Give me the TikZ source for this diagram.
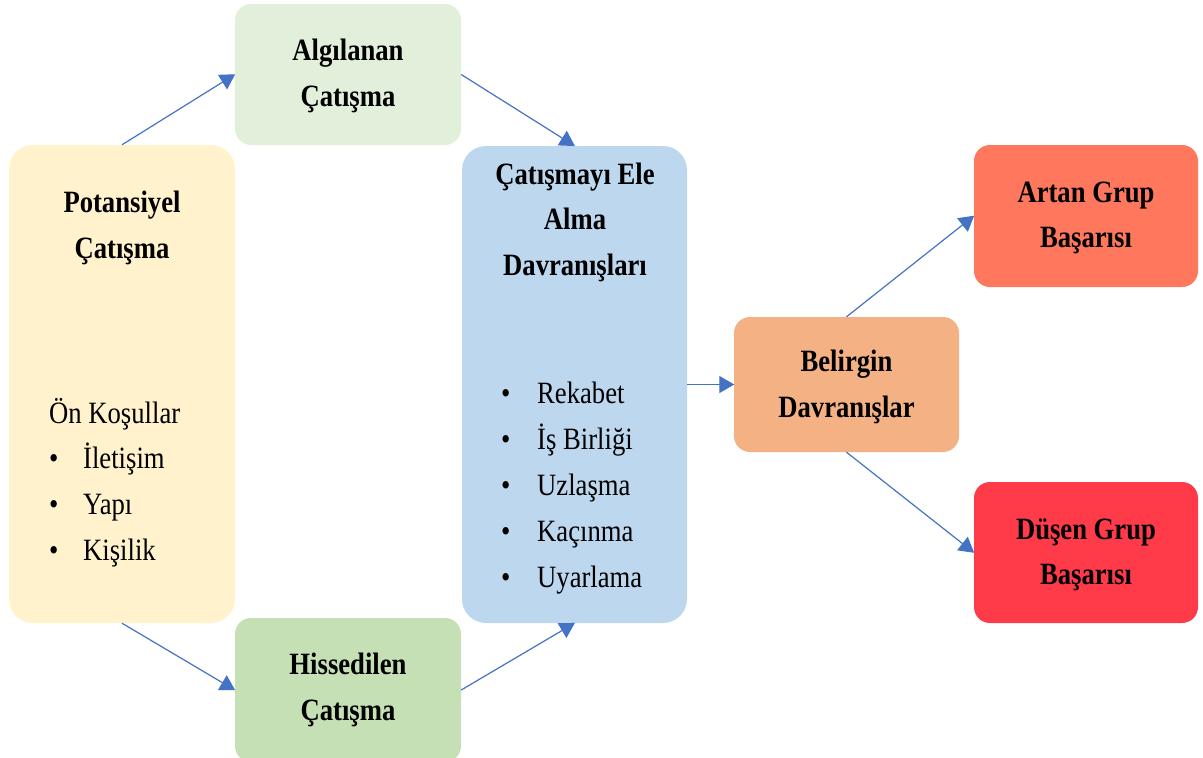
\documentclass[tikz,border=0pt]{standalone}
\usepackage{fontspec}
\setmainfont{Liberation Serif}[FakeStretch=0.86]
\usetikzlibrary{arrows.meta}

\definecolor{potfill}{HTML}{FFF2CC}
\definecolor{algfill}{HTML}{E2EFDA}
\definecolor{hisfill}{HTML}{C5E0B4}
\definecolor{elefill}{HTML}{BDD7EE}
\definecolor{belfill}{HTML}{F4B183}
\definecolor{artfill}{HTML}{FF775C}
\definecolor{dusfill}{HTML}{FF3B4A}
\definecolor{arrowblue}{HTML}{4472C4}

\tikzset{
  box/.style={draw=none, inner sep=0pt, rounded corners=16pt},
  bigbox/.style={box, rounded corners=24pt},
  title/.style={font=\fontsize{31}{45.5}\selectfont\bfseries, align=center, inner sep=0pt},
  item/.style={font=\fontsize{31}{45.5}\selectfont, inner sep=0pt, anchor=base west},
  flow/.style={draw=arrowblue, line width=1.2pt, -{Triangle[length=15pt,width=17pt]}, shorten >=-0.5pt}
}

\begin{document}
\begin{tikzpicture}[x=1pt,y=-1pt]
  \useasboundingbox (0,0) rectangle (1203,758);
  \clip (0,0) rectangle (1203,758);

  % boxes
  \node[bigbox, fill=potfill, minimum width=226pt, minimum height=478pt] (pot) at (122,384) {};
  \node[box, fill=algfill, minimum width=226pt, minimum height=141pt] (alg) at (348,74.5) {};
  \node[box, fill=hisfill, minimum width=226pt, minimum height=144pt] (his) at (348,690) {};
  \node[bigbox, fill=elefill, minimum width=225pt, minimum height=477pt] (ele) at (574.5,384.5) {};
  \node[box, fill=belfill, minimum width=225pt, minimum height=135pt] (bel) at (846.5,384.5) {};
  \node[box, fill=artfill, minimum width=224pt, minimum height=142pt] (art) at (1086,216) {};
  \node[box, fill=dusfill, minimum width=224pt, minimum height=141pt] (dus) at (1086,552.5) {};

  % titles
  \node[title] (potT) at (122,228) {Potansiyel\\Çatışma};
  \node[title] (algT) at (348,76) {Algılanan\\Çatışma};
  \node[title] (hisT) at (348,690) {Hissedilen\\Çatışma};
  \node[title] (eleT) at (575,222) {Çatışmayı Ele\\Alma\\Davranışları};
  \node[title] (belT) at (846.5,387) {Belirgin\\Davranışlar};
  \node[title] (artT) at (1086,218) {Artan Grup\\Başarısı};
  \node[title] (dusT) at (1086,555) {Düşen Grup\\Başarısı};

  % preconditions list
  \node[item] (on) at (49,423) {Ön Koşullar};
  \node[item] (b1) at (49,468) {•};
  \node[item] (i1) at (83,468) {İletişim};
  \node[item] (b2) at (49,514) {•};
  \node[item] (i2) at (83,514) {Yapı};
  \node[item] (b3) at (49,560) {•};
  \node[item] (i3) at (83,560) {Kişilik};

  % handling behaviours list
  \node[item] (c1) at (501,403) {•};
  \node[item] (r1) at (537,403) {Rekabet};
  \node[item] (c2) at (501,449) {•};
  \node[item] (r2) at (537,449) {İş Birliği};
  \node[item] (c3) at (501,495) {•};
  \node[item] (r3) at (537,495) {Uzlaşma};
  \node[item] (c4) at (501,541) {•};
  \node[item] (r4) at (537,541) {Kaçınma};
  \node[item] (c5) at (501,587) {•};
  \node[item] (r5) at (537,587) {Uyarlama};

  % connectors
  \draw[flow] (pot.north) -- (alg.west);
  \draw[flow] (alg.east) -- (ele.north);
  \draw[flow] (pot.south) -- (his.west);
  \draw[flow] (his.east) -- (ele.south);
  \draw[flow] (ele.east) -- (bel.west);
  \draw[flow] (bel.north) -- (art.west);
  \draw[flow] (bel.south) -- (dus.west);
\end{tikzpicture}
\end{document}
